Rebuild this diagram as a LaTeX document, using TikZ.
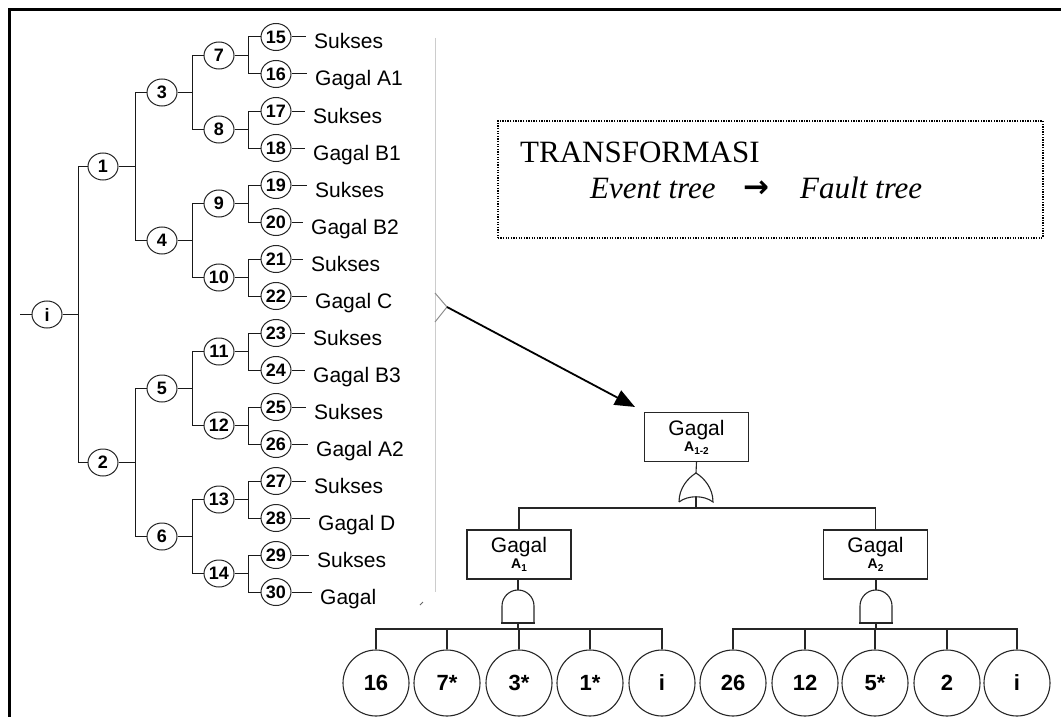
\documentclass[tikz,border=0pt]{standalone}
\usepackage{fontspec}
\setmainfont{Liberation Sans}
\newfontfamily\serifft{Liberation Serif}
\newfontfamily\djv{DejaVu Sans}
\usetikzlibrary{shapes.geometric,arrows.meta,calc}
\newcommand\subA[1]{{\fontsize{14}{14}\selectfont\bfseries A\raisebox{-3pt}{\fontsize{10}{10}\selectfont #1}}}
\tikzset{
  etn/.style={ellipse,draw=black!85,line width=1pt,minimum width=30pt,minimum height=27pt,inner sep=0pt,font=\fontsize{18}{18}\selectfont\bfseries},
  lbl/.style={anchor=base west,inner sep=0pt,font=\fontsize{21}{20}\selectfont},
  tl/.style={line width=1pt,black!90},
  fl/.style={line width=1.1pt,black!85},
  ftc/.style={circle,draw=black!85,line width=1.1pt,minimum size=66pt,inner sep=0pt,font=\fontsize{22}{22}\selectfont\bfseries},
  gbox/.style={rectangle,draw=black!85,line width=1.1pt,minimum width=104pt,minimum height=49pt,align=center,inner sep=0pt,font=\fontsize{21}{17}\selectfont},
  ttxt/.style={anchor=base west,inner sep=0pt,font=\serifft\fontsize{31}{31}\selectfont},
  andg/.pic={\draw[fl] (-16,33) -- (-16,16) .. controls (-16,7.2) and (-8.8,0) .. (0,0) .. controls (8.8,0) and (16,7.2) .. (16,16) -- (16,33);
             \draw[fl] (-17,33) -- (17,33);},
  org/.pic={\draw[fl] (-17,29) .. controls (-17,15) and (-8,5) .. (0,0) .. controls (8,5) and (17,15) .. (17,29) .. controls (8,22) and (-8,22) .. (-17,29);}
}
\begin{document}
\begin{tikzpicture}[x=1pt,y=-1pt]
\useasboundingbox (0,0) rectangle (1061,717);
% frame
\draw[line width=3pt] (9,717) -- (9,10) -- (1061,10);
% grey separator and chevron
\draw[black!20,line width=1pt] (435,38) -- (435,592);
\draw[black!45,line width=1pt] (435,293) -- (447,307) -- (435,322);
\draw[black!60,line width=1pt] (420,605) -- (423,602);

% ---------- event tree ----------
\node[etn] (ni) at (47,314.5) {i};
\node[etn] (n1) at (103,166.5) {1};
\node[etn] (n2) at (103,462.5) {2};
\node[etn] (n3) at (162,92.5) {3};
\node[etn] (n4) at (162,240.5) {4};
\node[etn] (n5) at (162,388.5) {5};
\node[etn] (n6) at (162,536.5) {6};
\foreach \k in {7,...,14}{
  \node[etn] (n\k) at (219,{55.5+74*(\k-7)}) {\k};
}
\foreach \k/\lx/\t in {15/314/Sukses,16/315/Gagal A1,17/313/Sukses,18/313/Gagal B1,
                       19/315/Sukses,20/311/Gagal B2,21/311/Sukses,22/315/Gagal C,
                       23/313/Sukses,24/313/Gagal B3,25/314/Sukses,26/316/Gagal A2,
                       27/314/Sukses,28/318/Gagal D,29/317/Sukses,30/320/Gagal}{
  \node[etn] (n\k) at (276,{37+37*(\k-15)}) {\k};
  \node[lbl] (l\k) at (\lx,{49+37*(\k-15)}) {\t};
  \draw[tl,shorten >=8pt] (n\k.east) -- (n\k.east -| l\k.west);
}
\coordinate (st) at (20,314.5);
\draw[tl] (st) -- (ni.west);
\foreach \p/\a/\b/\d in {i/1/2/16, 1/3/4/17, 2/5/6/17, 3/7/8/15, 4/9/10/15, 5/11/12/15, 6/13/14/15,
                         7/15/16/14, 8/17/18/14, 9/19/20/14, 10/21/22/14, 11/23/24/14, 12/25/26/14, 13/27/28/14, 14/29/30/14}{
  \draw[tl] (n\p.east) -- ++(\d,0) coordinate (j\p);
  \draw[tl] (n\a.west) -| (j\p) |- (n\b.west);
}

% ---------- transformation box ----------
\node[draw,line width=1.5pt,dash pattern=on 1.3pt off 1.3pt,minimum width=545pt,minimum height=117pt,anchor=north west,inner sep=0pt] (tbox) at (497,120) {};
\node[ttxt] (ttl) at (520,162) {TRANSFORMASI};
\node[ttxt] (ev) at (590,198) {\itshape Event tree};
\node[inner sep=0pt,font=\djv\bfseries\fontsize{31}{31}\selectfont] (tarr) at (756,189) {→};
\node[ttxt] (ft) at (800,198) {\itshape Fault tree};

% ---------- fault tree ----------
\node[gbox] (A12) at (696.5,437) {Gagal\\[-1pt]\subA{1-2}};
\node[gbox] (A1) at (519,554.5) {Gagal\\[-1pt]\subA{1}};
\node[gbox] (A2) at (875.5,554.5) {Gagal\\[-1pt]\subA{2}};

\coordinate (g0t) at (696,473);
\coordinate (g0b) at (696,497);
\coordinate (b0) at (696,508);
\pic at (g0t) {org};
\draw[fl] (A12.south) -- (g0t);
\draw[fl] (g0b) -- (b0);
\draw[fl] (A1.north) |- (b0) -| (A2.north);

\coordinate (g1t) at (518,590);
\coordinate (g1b) at (518,623);
\coordinate (b1) at (518,629);
\pic at (g1t) {andg};
\draw[fl] (A1.south -| g1t) -- (g1t);
\draw[fl] (g1b) -- (b1);

\coordinate (g2t) at (876,590);
\coordinate (g2b) at (876,623);
\coordinate (b2) at (876,629);
\pic at (g2t) {andg};
\draw[fl] (A2.south -| g2t) -- (g2t);
\draw[fl] (g2b) -- (b2);

\foreach \nm/\x/\t in {f16/376/16, f7/447/7*, f3/519/3*, f1/590/1*, fi1/662/i}{
  \node[ftc] (\nm) at (\x,683) {\t};
  \draw[fl] (\nm.north) |- (b1);
}
\foreach \nm/\x/\t in {f26/733/26, f12/805/12, f5/875/5*, f2/947/2, fi2/1017/i}{
  \node[ftc] (\nm) at (\x,683) {\t};
  \draw[fl] (\nm.north) |- (b2);
}

% ---------- transformation arrow ----------
\coordinate (as) at (447,307);
\draw[line width=1.8pt,-{Triangle[length=20pt,width=16pt]}] (as) -- ([shift={(-9,-5)}]A12.north west);
\end{tikzpicture}
\end{document}
